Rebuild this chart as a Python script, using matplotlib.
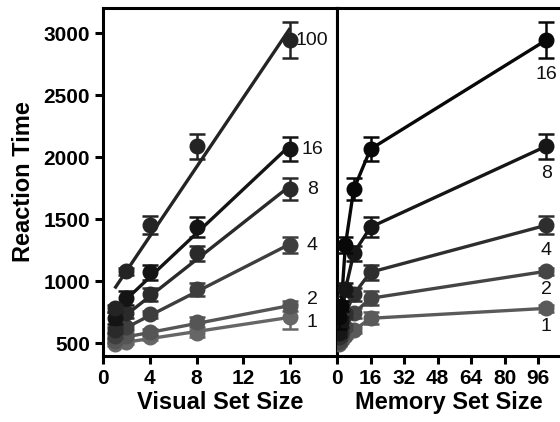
import matplotlib.pyplot as plt
import numpy as np

plt.rcParams['font.family'] = ['Liberation Sans', 'DejaVu Sans']

# ── Data: reaction time [visual set size][memory set size] ───────────────────
visual_sizes = [1, 2, 4, 8, 16]
memory_sizes = [1, 2, 4, 8, 16, 100]

rt_v1 = [495, 520, 560, 605, 702, 782]
rt_v2 = [510, 560, 629, 742, 863, 1081]
rt_v4 = [548, 589, 734, 895, 1073, 1452]
rt_v8 = [580, 669, 935, 1226, 1436, 2089]
rt_v16 = [715, 800, 1290, 1742, 2065, 2944]

err_v1 = [15, 15, 20, 25, 50, 30]
err_v2 = [15, 20, 25, 40, 55, 30]
err_v4 = [20, 25, 30, 50, 60, 75]
err_v8 = [25, 40, 50, 60, 80, 100]
err_v16 = [100, 40, 65, 90, 95, 145]

rt = np.array([rt_v1, rt_v2, rt_v4, rt_v8, rt_v16])
err = np.array([err_v1, err_v2, err_v4, err_v8, err_v16])

y_ticks = [500, 1000, 1500, 2000, 2500, 3000]
vis_ticks = [0, 4, 8, 12, 16]
mem_ticks = [0, 16, 32, 48, 64, 80, 96]

# styling per line
mem_colors = ['#666666', '#555555', '#3e3e3e', '#2a2a2a', '#141414', '#242424']
mem_label_dy = [-6, 7, 0, 0, 0, 0]          # pixel nudges for the labels
vis_colors = ['#5a5a5a', '#454545', '#2e2e2e', '#161616', '#080808']
vis_label_dy = [-18, -18, -25, -27, -34]

W, H = 560, 422
fig = plt.figure(figsize=(W/100, H/100), dpi=100)
fig.patch.set_facecolor('white')

x0, xm, yb, yt = 103, 337, 356, 8
axL = fig.add_axes([x0/W, 1-yb/H, (xm-x0)/W, (yb-yt)/H])
axR = fig.add_axes([xm/W, 1-yb/H, (W-xm)/W + 0.002, (yb-yt)/H], sharey=axL)

LW = 2.4
MS = 10.5
for ax in (axL, axR):
    for s in ax.spines.values():
        s.set_linewidth(2.2)
    ax.tick_params(axis='both', direction='out', width=2.2, length=6,
                   labelsize=15)
    for lab in ax.get_xticklabels() + ax.get_yticklabels():
        lab.set_fontweight('bold')
axR.spines['right'].set_visible(False)

# ── Left: RT vs visual set size, one fitted line per memory set size ────────
vx = np.array(visual_sizes)
for j, m in enumerate(memory_sizes):
    ys = rt[:, j]
    es = err[:, j]
    c = mem_colors[j]
    k, b = np.polyfit(vx, ys, 1)
    xx = np.array([vx[0], vx[-1]])
    axL.plot(xx, k*xx + b, color=c, lw=LW, zorder=2+j, solid_capstyle='butt')
    axL.errorbar(vx, ys, yerr=es, fmt='o', color=c, ms=MS, elinewidth=1.8,
                 capsize=6, capthick=1.8, zorder=3+j)
    axL.annotate(str(m), (vx[-1], ys[-1]), xytext=(22, mem_label_dy[j]),
                 textcoords='offset pixels', ha='center', va='center',
                 fontsize=14, color='#111111', zorder=20)

# ── Right: RT vs memory set size, one line per visual set size ──────────────
mx = np.array(memory_sizes)
for i, v in enumerate(visual_sizes):
    ys = rt[i]
    es = err[i]
    c = vis_colors[i]
    axR.plot(mx, ys, color=c, lw=LW, zorder=2+i)
    axR.errorbar(mx, ys, yerr=es, fmt='o', color=c, ms=MS, elinewidth=1.8,
                 capsize=6, capthick=1.8, zorder=3+i)
    axR.annotate(str(v), (mx[-1], ys[-1]), xytext=(0, vis_label_dy[i]),
                 textcoords='offset pixels', ha='center', va='center',
                 fontsize=14, color='#111111', zorder=20)

axL.set_ylim(398, 3202)
axL.set_yticks(y_ticks)
axL.set_yticklabels([str(t) for t in y_ticks], fontweight='bold')
axL.set_xlim(0, 20)
axL.set_xticks(vis_ticks)
axL.set_xticklabels([str(t) for t in vis_ticks], fontweight='bold')
axR.set_xlim(0, (W - xm) / (200/96))
axR.set_xticks(mem_ticks)
axR.set_xticklabels([str(t) for t in mem_ticks], fontweight='bold')
axR.tick_params(axis='y', left=False, labelleft=False)

axL.set_ylabel('Reaction Time', fontsize=17, fontweight='bold', labelpad=6)
axL.set_xlabel('Visual Set Size', fontsize=17, fontweight='bold', labelpad=2)
axR.set_xlabel('Memory Set Size', fontsize=17, fontweight='bold', labelpad=2)

fig.savefig('out.png', dpi=100, facecolor='white')
